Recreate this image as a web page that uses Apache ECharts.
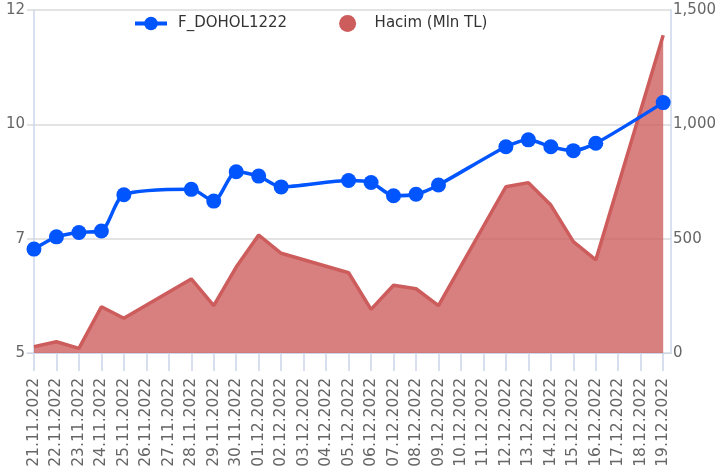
<!DOCTYPE html>
<html>
<head>
<meta charset="utf-8">
<script src="https://cdn.jsdelivr.net/npm/echarts@6/dist/echarts.min.js"></script>
<style>
  html, body { margin: 0; padding: 0; background: #fff; }
  #chart { width: 719px; height: 472px; }
</style>
</head>
<body>
<div id="chart"></div>
<script>
// takvim günleri (eksen etiketleri)
const allDates = [
  '21.11.2022', '22.11.2022', '23.11.2022', '24.11.2022', '25.11.2022', '26.11.2022', '27.11.2022',
  '28.11.2022', '29.11.2022', '30.11.2022', '01.12.2022', '02.12.2022', '03.12.2022', '04.12.2022',
  '05.12.2022', '06.12.2022', '07.12.2022', '08.12.2022', '09.12.2022', '10.12.2022', '11.12.2022',
  '12.12.2022', '13.12.2022', '14.12.2022', '15.12.2022', '16.12.2022', '17.12.2022', '18.12.2022',
  '19.12.2022'
]

// işlem günleri
const tradeDates = [
  '21.11.2022', '22.11.2022', '23.11.2022', '24.11.2022', '25.11.2022',
  '28.11.2022', '29.11.2022', '30.11.2022', '01.12.2022', '02.12.2022',
  '05.12.2022', '06.12.2022', '07.12.2022', '08.12.2022', '09.12.2022',
  '12.12.2022', '13.12.2022', '14.12.2022', '15.12.2022', '16.12.2022',
  '19.12.2022'
]

const price = [
  7.12, 7.37, 7.46, 7.49, 8.23,
  8.34, 8.10, 8.70, 8.61, 8.39,
  8.52, 8.48, 8.21, 8.24, 8.43,
  9.21, 9.35, 9.21, 9.13, 9.28,
  10.11
]

const volume = [
  28, 49, 20, 202, 152,
  324, 207, 376, 516, 436,
  351, 191, 296, 281, 207,
  727, 745, 647, 487, 407,
  1390
]

const rightTicks = [0, 500, 1000, 1500]

const dayIndex = allDates.map((d, i) => i)
const toPairs = vals => tradeDates.map((d, i) => [allDates.indexOf(d), vals[i]])

const labelFont = { fontFamily: 'DejaVu Sans', fontSize: 15, color: '#666' }
const axisBlue = '#ccd6eb'

const myChart = echarts.init(document.getElementById('chart'))
myChart.setOption({
    animation: false,
    textStyle: { fontFamily: 'DejaVu Sans' },
    legend: {
        left: 128,
        top: 10,
        itemWidth: 32,
        itemHeight: 17,
        itemGap: 52,
        textStyle: { fontFamily: 'DejaVu Sans', fontSize: 15, color: '#333', padding: [0, 0, 0, 6] },
        data: [
            { name: 'F_DOHOL1222', lineStyle: { width: 4 } },
            { name: 'Hacim (Mln TL)', icon: 'circle' }
        ]
    },
    grid: { left: 27, right: 46, top: 10, bottom: 119, containLabel: false },
    xAxis: {
        type: 'value',
        min: -0.31,
        max: 28.35,
        splitLine: { show: false },
        axisLine: { show: true, lineStyle: { color: axisBlue, width: 1 } },
        axisTick: { show: true, length: 18, customValues: dayIndex, lineStyle: { color: axisBlue, width: 1.5 } },
        axisLabel: Object.assign({}, labelFont, {
            customValues: dayIndex,
            rotate: 90,
            margin: 25,
            fontSize: 15.5,
            formatter: v => allDates[Math.round(v)]
        })
    },
    yAxis: [
        {
            type: 'value',
            position: 'left',
            min: 5,
            max: 12,
            alignTicks: true,
            axisLine: { show: true, lineStyle: { color: axisBlue, width: 1.5 } },
            axisTick: { show: false },
            splitLine: { show: true, lineStyle: { color: '#e3e3e3', width: 2 } },
            axisLabel: Object.assign({ margin: 2, formatter: v => String(Math.round(v)) }, labelFont)
        },
        {
            type: 'value',
            position: 'right',
            min: rightTicks[0],
            max: rightTicks[rightTicks.length - 1],
            interval: 500,
            axisLine: { show: true, lineStyle: { color: axisBlue, width: 1.5 } },
            axisTick: { show: false },
            splitLine: { show: true, lineStyle: { color: '#e3e3e3', width: 2 } },
            axisLabel: Object.assign({ margin: 2, formatter: v => v.toLocaleString('en-US') }, labelFont)
        }
    ],
    series: [
        {
            name: 'F_DOHOL1222',
            type: 'line',
            yAxisIndex: 0,
            z: 3,
            smooth: 0.25,
            symbol: 'circle',
            symbolSize: 15,
            color: '#0055ff',
            lineStyle: { width: 3.5, color: '#0055ff' },
            itemStyle: { color: '#0055ff' },
            data: toPairs(price)
        },
        {
            name: 'Hacim (Mln TL)',
            type: 'line',
            yAxisIndex: 1,
            z: 2,
            symbol: 'none',
            color: '#cd5c5c',
            lineStyle: { width: 3.5, color: '#cd5c5c' },
            areaStyle: { color: '#cd5c5c', opacity: 0.78 },
            data: toPairs(volume)
        }
    ]
})
</script>
</body>
</html>
